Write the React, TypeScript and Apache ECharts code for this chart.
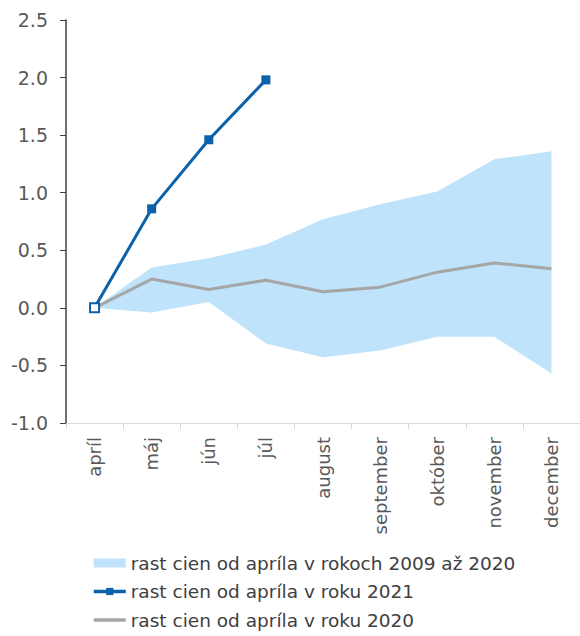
import React, { useEffect, useRef } from "react";
import * as echarts from "echarts";

const categories = ["apríl", "máj", "jún", "júl", "august", "september", "október", "november", "december"];
const bandLower = [0, -0.04, 0.05, -0.31, -0.43, -0.37, -0.25, -0.25, -0.57];
const bandUpper = [0, 0.35, 0.43, 0.55, 0.77, 0.9, 1.01, 1.29, 1.36];
const growth2021 = [0, 0.86, 1.46, 1.98];
const growth2020 = [0, 0.25, 0.16, 0.24, 0.14, 0.18, 0.31, 0.39, 0.34];

const nameBand = "rast cien od apríla v rokoch 2009 až 2020";
const name2021 = "rast cien od apríla v roku 2021";
const name2020 = "rast cien od apríla v roku 2020";

const BAND = "#bee3fa";
const BLUE = "#0b61aa";
const GRAY = "#a6a6a6";
const FONT = "DejaVu Sans";

export default function App() {
  const ref = useRef<HTMLDivElement>(null);
  useEffect(() => {
    if (!ref.current) return;
    const chart = echarts.init(ref.current, null, { renderer: "svg" });
    chart.setOption({
      animation: false,
      grid: { left: 66, top: 20, right: -8, bottom: 213, containLabel: false },
      xAxis: {
        type: "category",
        data: categories,
        boundaryGap: true,
        axisLine: { onZero: false, lineStyle: { color: "#d9d9d9", width: 1 } },
        axisTick: { show: true, length: 6, lineStyle: { color: "#d9d9d9" } },
        axisLabel: {
          rotate: 90,
          margin: 14,
          fontSize: 18,
          fontFamily: FONT,
          color: "#595959",
          interval: 0,
        },
        splitLine: { show: false },
      },
      yAxis: {
        type: "value",
        min: -1,
        max: 2.5,
        interval: 0.5,
        axisLine: { show: true, lineStyle: { color: "#404040", width: 1.5 } },
        axisTick: { show: true, length: 6, lineStyle: { color: "#404040" } },
        axisLabel: {
          margin: 18,
          fontSize: 19,
          fontFamily: FONT,
          color: "#595959",
          formatter: (v: number) => v.toFixed(1),
        },
        splitLine: { show: false },
      },
      legend: {
        orient: "vertical",
        left: 92,
        top: 553,
        padding: 0,
        itemWidth: 32,
        itemHeight: 9,
        itemGap: 8.5,
        textStyle: { fontSize: 18.5, fontFamily: FONT, color: "#404040", lineHeight: 20 },
        data: [
          { name: nameBand, icon: "rect" },
          { name: name2021, lineStyle: { width: 3.5 } },
          { name: name2020, itemStyle: { opacity: 0 }, lineStyle: { width: 3.5 } },
        ],
      },
      series: [
        {
          name: "_lower",
          type: "line",
          stack: "band",
          stackStrategy: "all",
          data: bandLower,
          symbol: "none",
          lineStyle: { opacity: 0, width: 0 },
          silent: true,
        },
        {
          name: nameBand,
          type: "line",
          stack: "band",
          stackStrategy: "all",
          data: bandUpper.map((u, i) => +(u - bandLower[i]).toFixed(4)),
          symbol: "none",
          itemStyle: { color: BAND },
          lineStyle: { opacity: 0, width: 0 },
          areaStyle: { color: BAND, opacity: 1 },
        },
        {
          name: name2020,
          type: "line",
          data: growth2020,
          symbol: "none",
          itemStyle: { color: GRAY, opacity: 0 },
          lineStyle: { color: GRAY, width: 3 },
        },
        {
          name: name2021,
          type: "line",
          data: growth2021.map((v, i) =>
            i === 0 ? { value: v, itemStyle: { color: "#ffffff", borderColor: BLUE, borderWidth: 2 } } : v
          ),
          symbol: "rect",
          symbolSize: 9,
          itemStyle: { color: BLUE },
          lineStyle: { color: BLUE, width: 3 },
        },
      ],
    });
    return () => chart.dispose();
  }, []);
  return (
    <div
      ref={ref}
      style={{ position: "fixed", left: 0, top: 0, width: 580, height: 636, background: "#ffffff" }}
    />
  );
}
